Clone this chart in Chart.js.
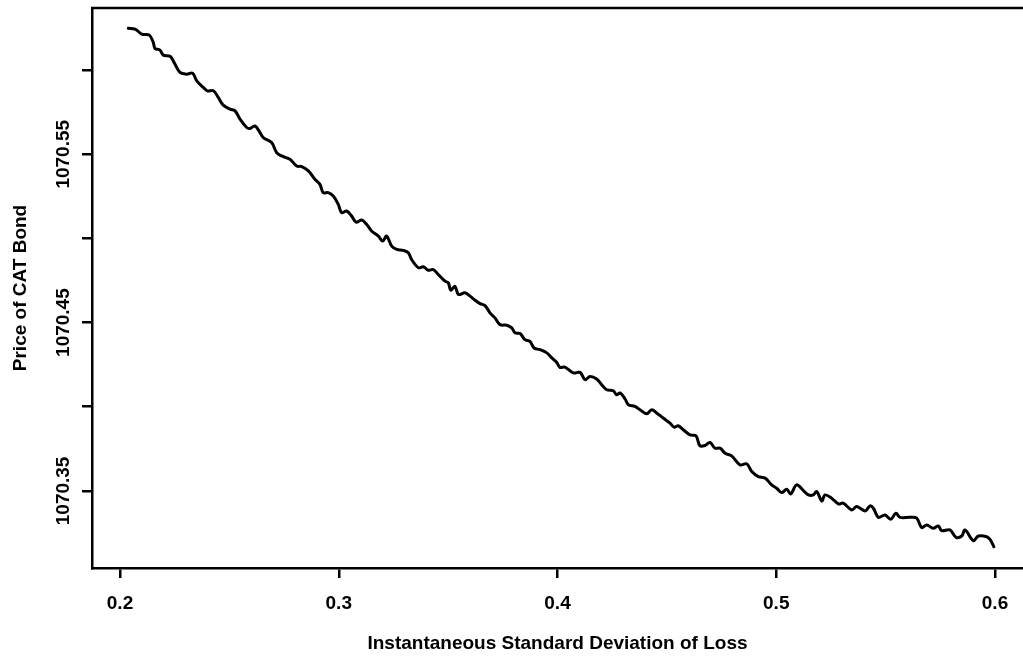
<!DOCTYPE html>
<html>
<head>
<meta charset="utf-8">
<script src="https://cdn.jsdelivr.net/npm/chart.js@4.4.0/dist/chart.umd.min.js"></script>
<style>
  html, body { margin: 0; padding: 0; background: #ffffff; overflow: hidden; }
  canvas { display: block; }
</style>
</head>
<body>
<canvas id="c" width="1023" height="658"></canvas>
<script>
// Instantaneous standard deviation of loss (x)
const sigmaValues = [
  0.2038, 0.2069, 0.2099, 0.2134, 0.2152, 0.2160, 0.2183, 0.2198, 0.2229, 0.2251,
  0.2274, 0.2305, 0.2332, 0.2351, 0.2381, 0.2399, 0.2427, 0.2449, 0.2472, 0.2503,
  0.2526, 0.2549, 0.2579, 0.2594, 0.2617, 0.2640, 0.2655, 0.2693, 0.2716, 0.2739,
  0.2777, 0.2808, 0.2831, 0.2861, 0.2891, 0.2914, 0.2929, 0.2952, 0.2975, 0.2998,
  0.3013, 0.3036, 0.3059, 0.3079, 0.3105, 0.3128, 0.3151, 0.3181, 0.3201, 0.3219,
  0.3242, 0.3265, 0.3295, 0.3318, 0.3333, 0.3364, 0.3387, 0.3409, 0.3432, 0.3455,
  0.3486, 0.3501, 0.3512, 0.3531, 0.3547, 0.3577, 0.3600, 0.3623, 0.3646, 0.3669,
  0.3691, 0.3714, 0.3737, 0.3768, 0.3791, 0.3806, 0.3829, 0.3851, 0.3874, 0.3893,
  0.3920, 0.3951, 0.3974, 0.3996, 0.4011, 0.4034, 0.4072, 0.4103, 0.4126, 0.4149,
  0.4179, 0.4202, 0.4225, 0.4255, 0.4270, 0.4286, 0.4309, 0.4324, 0.4354, 0.4377,
  0.4408, 0.4431, 0.4453, 0.4483, 0.4514, 0.4533, 0.4552, 0.4575, 0.4606, 0.4633,
  0.4651, 0.4674, 0.4697, 0.4720, 0.4743, 0.4766, 0.4796, 0.4834, 0.4865, 0.4888,
  0.4918, 0.4949, 0.4979, 0.5002, 0.5025, 0.5048, 0.5066, 0.5093, 0.5124, 0.5147,
  0.5169, 0.5185, 0.5208, 0.5223, 0.5253, 0.5284, 0.5306, 0.5345, 0.5368, 0.5406,
  0.5429, 0.5444, 0.5467, 0.5497, 0.5523, 0.5547, 0.5566, 0.5611, 0.5642, 0.5665,
  0.5688, 0.5718, 0.5741, 0.5756, 0.5794, 0.5822, 0.5848, 0.5863, 0.5901, 0.5924,
  0.5962, 0.5977, 0.5995
];

// Price of CAT bond (y)
const priceValues = [
  1070.6248, 1070.6244, 1070.6214, 1070.6208, 1070.6165, 1070.6129, 1070.6119, 1070.6089, 1070.6082, 1070.6036,
  1070.5986, 1070.5976, 1070.5982, 1070.5936, 1070.5897, 1070.5877, 1070.5877, 1070.5838, 1070.5792, 1070.5768,
  1070.5758, 1070.5708, 1070.5659, 1070.5653, 1070.5668, 1070.5629, 1070.5599, 1070.5570, 1070.5510, 1070.5490,
  1070.5470, 1070.5430, 1070.5427, 1070.5401, 1070.5351, 1070.5321, 1070.5272, 1070.5272, 1070.5252, 1070.5202,
  1070.5153, 1070.5163, 1070.5133, 1070.5097, 1070.5109, 1070.5083, 1070.5043, 1070.5014, 1070.4984, 1070.5014,
  1070.4954, 1070.4935, 1070.4929, 1070.4915, 1070.4875, 1070.4826, 1070.4832, 1070.4811, 1070.4815, 1070.4786,
  1070.4746, 1070.4736, 1070.4692, 1070.4716, 1070.4667, 1070.4677, 1070.4657, 1070.4633, 1070.4613, 1070.4601,
  1070.4558, 1070.4528, 1070.4488, 1070.4484, 1070.4468, 1070.4439, 1070.4435, 1070.4399, 1070.4389, 1070.4349,
  1070.4339, 1070.4320, 1070.4290, 1070.4264, 1070.4234, 1070.4236, 1070.4201, 1070.4204, 1070.4161, 1070.4180,
  1070.4165, 1070.4131, 1070.4101, 1070.4095, 1070.4071, 1070.4082, 1070.4046, 1070.4012, 1070.4002, 1070.3982,
  1070.3958, 1070.3982, 1070.3963, 1070.3933, 1070.3903, 1070.3879, 1070.3887, 1070.3863, 1070.3833, 1070.3827,
  1070.3768, 1070.3770, 1070.3788, 1070.3754, 1070.3754, 1070.3724, 1070.3708, 1070.3655, 1070.3661, 1070.3615,
  1070.3585, 1070.3576, 1070.3536, 1070.3516, 1070.3490, 1070.3510, 1070.3482, 1070.3536, 1070.3502, 1070.3476,
  1070.3476, 1070.3496, 1070.3440, 1070.3476, 1070.3457, 1070.3423, 1070.3427, 1070.3387, 1070.3407, 1070.3381,
  1070.3411, 1070.3397, 1070.3343, 1070.3357, 1070.3332, 1070.3367, 1070.3343, 1070.3343, 1070.3338, 1070.3282,
  1070.3298, 1070.3278, 1070.3292, 1070.3264, 1070.3268, 1070.3224, 1070.3232, 1070.3268, 1070.3204, 1070.3232,
  1070.3228, 1070.3212, 1070.3168
];

const xTicks = [0.2, 0.3, 0.4, 0.5, 0.6];
const yTicks = [1070.35, 1070.40, 1070.45, 1070.50, 1070.55, 1070.60];
const yTickLabels = [1070.35, 1070.45, 1070.55];

const xTitle = 'Instantaneous Standard Deviation of Loss';
const yTitle = 'Price of CAT Bond';

const FONT_FAMILY = '"Liberation Sans", Arial, Helvetica, sans-serif';
const FONT_SIZE = 19;

const points = sigmaValues.map((x, i) => ({ x: x, y: priceValues[i] }));

// Top frame line and rotated y tick labels
const framePlugin = {
  id: 'framePlugin',
  afterDraw(chart) {
    const ctx = chart.ctx;
    const area = chart.chartArea;
    ctx.save();
    ctx.strokeStyle = '#000';
    ctx.lineWidth = 2.5;
    ctx.beginPath();
    ctx.moveTo(area.left - 1, area.top);
    ctx.lineTo(area.right + 2, area.top);
    ctx.stroke();

    const yScale = chart.scales.y;
    ctx.fillStyle = '#000';
    ctx.font = 'bold ' + FONT_SIZE + 'px ' + FONT_FAMILY;
    ctx.textAlign = 'center';
    ctx.textBaseline = 'middle';
    yTickLabels.forEach(v => {
      const py = yScale.getPixelForValue(v);
      ctx.save();
      ctx.translate(64, py);
      ctx.rotate(-Math.PI / 2);
      ctx.fillText(v.toFixed(2), 0, 0);
      ctx.restore();
    });
    ctx.restore();
  }
};

new Chart(document.getElementById('c'), {
  type: 'line',
  data: {
    datasets: [{
      data: points,
      borderColor: '#000',
      borderWidth: 3,
      borderJoinStyle: 'round',
      borderCapStyle: 'round',
      pointRadius: 0,
      tension: 0.35,
      cubicInterpolationMode: 'default',
      fill: false
    }]
  },
  options: {
    responsive: false,
    animation: false,
    devicePixelRatio: 1,
    layout: { padding: { top: 8, right: 0, left: 0, bottom: 0 } },
    plugins: {
      legend: { display: false },
      tooltip: { enabled: false }
    },
    scales: {
      x: {
        type: 'linear',
        min: 0.1872,
        max: 0.6128,
        afterBuildTicks: (scale) => { scale.ticks = xTicks.map(v => ({ value: v })); },
        afterFit: (scale) => { scale.height = 90; },
        ticks: {
          color: '#000',
          padding: 14,
          maxRotation: 0,
          autoSkip: false,
          font: { family: FONT_FAMILY, size: FONT_SIZE, weight: 'bold' },
          callback: (v) => Number(v).toFixed(1)
        },
        grid: {
          drawOnChartArea: false,
          drawTicks: true,
          tickLength: 10,
          color: '#000',
          lineWidth: 2.5
        },
        border: { display: true, color: '#000', width: 2.5 },
        title: {
          display: true,
          text: xTitle,
          color: '#000',
          font: { family: FONT_FAMILY, size: FONT_SIZE, weight: 'bold' },
          padding: { top: 0, bottom: 3 }
        }
      },
      y: {
        type: 'linear',
        min: 1070.3042,
        max: 1070.6369,
        afterBuildTicks: (scale) => { scale.ticks = yTicks.map(v => ({ value: v })); },
        afterFit: (scale) => { scale.width = 92; },
        ticks: { display: false },
        grid: {
          drawOnChartArea: false,
          drawTicks: true,
          tickLength: 10,
          color: '#000',
          lineWidth: 2.5
        },
        border: { display: true, color: '#000', width: 2.5 },
        title: {
          display: true,
          text: yTitle,
          color: '#000',
          font: { family: FONT_FAMILY, size: FONT_SIZE, weight: 'bold' },
          padding: { top: 9, bottom: 0 }
        }
      }
    }
  },
  plugins: [framePlugin]
});
</script>
</body>
</html>
